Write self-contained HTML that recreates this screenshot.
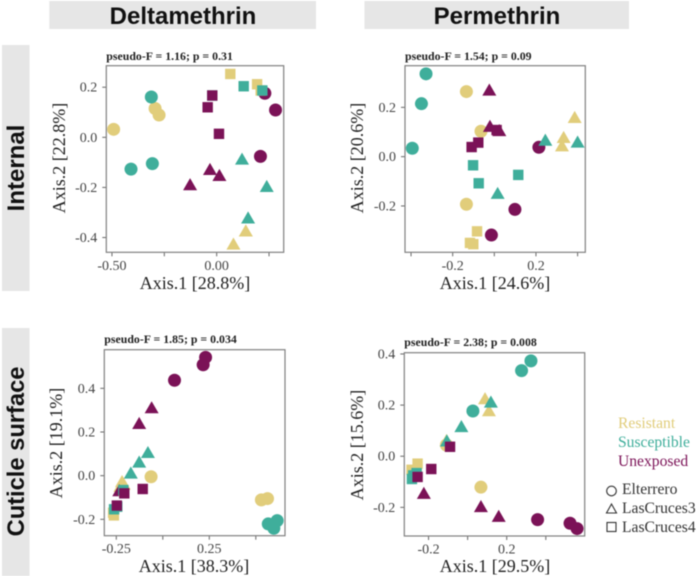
<!DOCTYPE html>
<html lang="en">
<head>
<meta charset="utf-8">
<title>PCoA ordination panels</title>
<style>
html,body{margin:0;padding:0;background:#fff}
#figure{position:relative;width:697px;height:576px;overflow:hidden;background:#fff;filter:blur(.5px)}
svg{position:absolute;left:0;top:0}
.hdr{font:bold 24px "Liberation Sans",sans-serif;fill:#111;text-anchor:middle}
.tick{font:14px "Liberation Serif",serif;fill:#444}
.axt{font:18px "Liberation Serif",serif;fill:#222;text-anchor:middle}
.stat{font:bold 11.85px "Liberation Serif",serif;fill:#222}
.leg{font:15.6px "Liberation Serif",serif}
</style>
</head>
<body>
<div id="figure">
<svg id="chart" width="697" height="576" viewBox="0 0 697 576" xmlns="http://www.w3.org/2000/svg">
  <rect x="49.3" y="1" width="266.7" height="28" fill="#e6e6e6"/>
  <text x="183" y="24" class="hdr">Deltamethrin</text>
  <rect x="364.5" y="1" width="264.5" height="28" fill="#e6e6e6"/>
  <text x="497" y="24" class="hdr">Permethrin</text>
  <rect x="2" y="45" width="27.5" height="246" fill="#e6e6e6"/>
  <text transform="translate(24 168) rotate(-90)" class="hdr">Internal</text>
  <rect x="2" y="328" width="27.5" height="248" fill="#e6e6e6"/>
  <text transform="translate(24 451.5) rotate(-90)" class="hdr" style="font-size:23.7px">Cuticle surface</text>

  <g>
    <text x="618" y="428" class="leg" fill="#e1cd7b">Resistant</text>
    <text x="618" y="447" class="leg" fill="#3fae9b">Susceptible</text>
    <text x="618" y="466" class="leg" fill="#7b1257">Unexposed</text>
    <circle cx="611.5" cy="491" r="4.8" fill="none" stroke="#333" stroke-width="1.1"/>
    <text x="622" y="494" class="leg" fill="#333">Elterrero</text>
    <path d="M606.5 513 L616.5 513 L611.5 504 Z" fill="none" stroke="#333" stroke-width="1.1"/>
    <text x="622" y="513" class="leg" fill="#333">LasCruces3</text>
    <rect x="607" y="522.5" width="9" height="9" fill="none" stroke="#333" stroke-width="1.1"/>
    <text x="622" y="532" class="leg" fill="#333">LasCruces4</text>
  </g>
</svg>
</div>
<script>
// Categories: every series lists 27 samples, ordered site by site, then group by group, 3 replicates each.
const groups = ['Resistant', 'Susceptible', 'Unexposed'];
const sites = ['Elterrero', 'LasCruces3', 'LasCruces4'];

// Deltamethrin / Internal
const deltaInternalX = [-.492,-.294,-.275, -.312,-.409,-.307, .23,.281,.209,
                        .08,.139,.139, .121,.239,.15, -.127,-.032,.013,
                        .065,.193,.21, .129,.218,-.021, -.021,-.043,.011];
const deltaInternalY = [.032,.115,.089, .161,-.127,-.105, .176,.109,-.076,
                        -.427,-.375,-.375, -.088,-.197,-.323, -.19,-.129,-.153,
                        .253,.212,.187, .204,.187,.167, .167,.12,.014];
const deltaInternalXTicks = [-.5,-.25,0,.25];
const deltaInternalXLabels = ['-0.50','','0.00',''];
const deltaInternalYTicks = [.2,0,-.2,-.4];
const deltaInternalYLabels = ['0.2','0.0','-0.2','-0.4'];

// Permethrin / Internal
const permInternalX = [-.134,-.064,-.134, -.328,-.35,-.394, .214,.099,-.014,
                       .386,.333,.325, .245,.4,.016, -.024,-.021,.024,
                       -.083,-.117,-.101, -.102,-.075,.115, -.109,-.077,.011];
const permInternalY = [.264,.103,-.193, .336,.215,.034, .038,-.214,-.318,
                       .158,.077,.043, .066,.058,-.15, .269,.122,.105,
                       -.303,-.35,-.355, -.035,-.108,-.074, .039,.057,.108];
const permInternalXTicks = [-.4,-.2,0,.2,.4];
const permInternalXLabels = ['','-0.2','','0.2',''];
const permInternalYTicks = [.2,0,-.2];
const permInternalYLabels = ['0.2','0.0','-0.2'];

// Deltamethrin / Cuticle surface
const deltaCuticleX = [-.063,.53,.563, .615,.567,.597, .063,.23,.217,
                       -.219,-.228,-.21, -.172,-.127,-.08, -.127,-.06,-.234,
                       -.263,-.267,-.21, -.262,-.245,-.212, -.108,-.207,-.247];
const deltaCuticleY = [-.005,-.111,-.105, -.206,-.221,-.241, .437,.542,.508,
                       -.028,-.05,-.04, .011,.061,.105, .238,.31,-.07,
                       -.182,-.17,-.07, -.154,-.142,-.066, -.061,-.081,-.137];
const deltaCuticleXTicks = [-.25,0,.25,.5];
const deltaCuticleXLabels = ['-0.25','','0.25',''];
const deltaCuticleYTicks = [.4,.2,0,-.2];
const deltaCuticleYLabels = ['0.4','0.2','0.0','-0.2'];

// Permethrin / Cuticle surface
const permCuticleX = [.068,-.108,-.108, .324,.276,.027, .358,.524,.56,
                      .089,.109,-.108, .119,-.032,-.106, -.224,.068,.159,
                      -.256,-.287,-.261, -.285,-.261,-.278, -.256,-.186,-.09];
const permCuticleY = [-.121,.044,.044, .373,.335,.177, -.248,-.262,-.283,
                      .224,.177,.061, .211,.115,.059, -.146,-.198,-.236,
                      -.029,-.053,-.06, -.089,-.066,-.075, -.081,-.05,.037];
const permCuticleXTicks = [-.2,0,.2,.4];
const permCuticleXLabels = ['-0.2','','0.2',''];
const permCuticleYTicks = [.4,.2,0,-.2];
const permCuticleYLabels = ['0.4','0.2','0.0','-0.2'];

const statLabels = ['pseudo-F = 1.16; p = 0.31','pseudo-F = 1.54; p = 0.09','pseudo-F = 1.85; p = 0.034','pseudo-F = 2.38; p = 0.008'];
const xTitles = ['Axis.1 [28.8%]','Axis.1 [24.6%]','Axis.1 [38.3%]','Axis.1 [29.5%]'];
const yTitles = ['Axis.2 [22.8%]','Axis.2 [20.6%]','Axis.2 [19.1%]','Axis.2 [15.6%]'];

const groupColors = ['#e1cd7b','#3fae9b','#7b1257'];
const NS = 'http://www.w3.org/2000/svg';
const svg = document.getElementById('chart');

function make(tag, attrs, parent) {
  const el = document.createElementNS(NS, tag);
  for (const k in attrs) el.setAttribute(k, attrs[k]);
  parent.appendChild(el);
  return el;
}

function drawPanel(p) {
  const xScale = v => p.left + (v - p.xMin) / (p.xMax - p.xMin) * (p.right - p.left);
  const yScale = v => p.top + (p.yMax - v) / (p.yMax - p.yMin) * (p.bottom - p.top);

  const g = make('g', {}, svg);
  
  

  p.xTicks.forEach((t, i) => {
    const x = xScale(t);
    const tick = make('line', {x1:x, x2:x, y1:p.bottom, y2:p.bottom+4, stroke:'#666', 'stroke-width':1}, g);
    
    
    if (p.xLabels[i]) {
      const lab = make('text', {x:x, y:p.bottom+17.5, class:'tick', 'text-anchor':'middle'}, g);
      lab.textContent = p.xLabels[i];
      
      
    }
  });
  p.yTicks.forEach((t, i) => {
    const y = yScale(t);
    const tick = make('line', {x1:p.left-4, x2:p.left, y1:y, y2:y, stroke:'#666', 'stroke-width':1}, g);
    
    
    const lab = make('text', {x:p.left-9, y:y+4.5, class:'tick', 'text-anchor':'end'}, g);
    lab.textContent = p.yLabels[i];
    
    
  });

  p.xs.forEach((v, i) => {
    const cx = xScale(v), cy = yScale(p.ys[i]);
    const site = Math.floor(i / 9);
    const fill = groupColors[Math.floor((i % 9) / 3)];
    let m;
    if (site === 0) m = make('circle', {cx:cx, cy:cy, r:6.5, fill:fill}, g);
    else if (site === 1) m = make('path', {d:`M${cx-7} ${cy+5.3}L${cx+7} ${cy+5.3}L${cx} ${cy-6.8}Z`, fill:fill}, g);
    else m = make('rect', {x:cx-5.2, y:cy-5.2, width:10.4, height:10.4, fill:fill}, g);
    
    
  });

  const box = make('rect', {x:p.left, y:p.top, width:p.right-p.left, height:p.bottom-p.top, fill:'none', stroke:'#808080', 'stroke-width':1.2}, g);
  
  

  const stat = make('text', {x:p.left, y:p.statY, class:'stat'}, g);
  stat.textContent = p.stat;
  
  

  const xt = make('text', {x:p.xTitleX, y:p.xTitleY, class:'axt'}, g);
  xt.textContent = p.xTitle;
  
  

  const yt = make('text', {transform:`translate(${p.yTitleX} ${p.yTitleY}) rotate(-90)`, class:'axt'}, g);
  yt.textContent = p.yTitle;
  
  
}

drawPanel({left:106.3,right:283.7,top:65.7,bottom:252.3,xMin:-.527,xMax:.32,yMin:-.459,yMax:.286,
  xs:deltaInternalX,ys:deltaInternalY,xTicks:deltaInternalXTicks,xLabels:deltaInternalXLabels,yTicks:deltaInternalYTicks,yLabels:deltaInternalYLabels,
  stat:statLabels[0],statY:60,xTitle:xTitles[0],xTitleX:195,xTitleY:289,yTitle:yTitles[0],yTitleX:65,yTitleY:158});
drawPanel({left:405,right:585.3,top:65.7,bottom:252.3,xMin:-.429,xMax:.437,yMin:-.388,yMax:.369,
  xs:permInternalX,ys:permInternalY,xTicks:permInternalXTicks,xLabels:permInternalXLabels,yTicks:permInternalYTicks,yLabels:permInternalYLabels,
  stat:statLabels[1],statY:60,xTitle:xTitles[1],xTitleX:495,xTitleY:289,yTitle:yTitles[1],yTitleX:363,yTitleY:158});
drawPanel({left:104.3,right:285,top:349.7,bottom:535.7,xMin:-.3145,xMax:.657,yMin:-.275,yMax:.577,
  xs:deltaCuticleX,ys:deltaCuticleY,xTicks:deltaCuticleXTicks,xLabels:deltaCuticleXLabels,yTicks:deltaCuticleYTicks,yLabels:deltaCuticleYLabels,
  stat:statLabels[2],statY:343,xTitle:xTitles[2],xTitleX:194,xTitleY:572,yTitle:yTitles[2],yTitleX:62,yTitleY:443});
drawPanel({left:404.3,right:584.7,top:352.7,bottom:536,xMin:-.324,xMax:.599,yMin:-.312,yMax:.405,
  xs:permCuticleX,ys:permCuticleY,xTicks:permCuticleXTicks,xLabels:permCuticleXLabels,yTicks:permCuticleYTicks,yLabels:permCuticleYLabels,
  stat:statLabels[3],statY:346,xTitle:xTitles[3],xTitleX:495,xTitleY:572,yTitle:yTitles[3],yTitleX:363,yTitleY:445});
</script>
</body>
</html>
